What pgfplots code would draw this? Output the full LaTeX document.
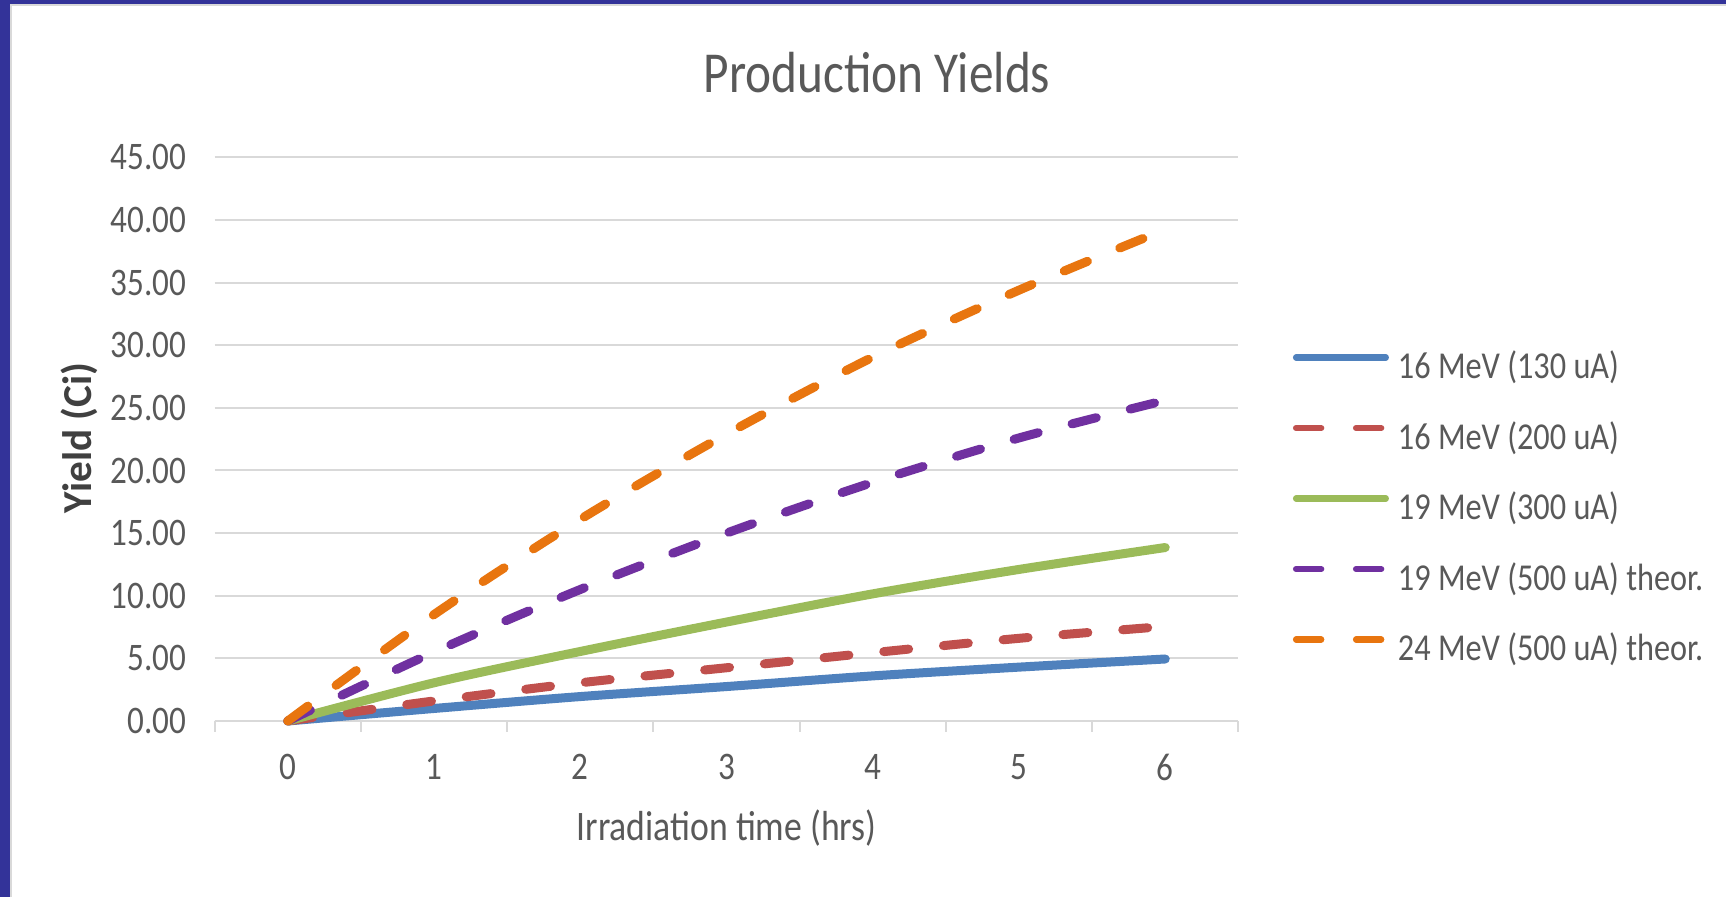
\documentclass[border=0pt]{standalone}
\usepackage{fontspec}
\setmainfont{Carlito}[FakeStretch=0.85]
\newfontfamily\ylabfont{Carlito}
\usepackage{pgfplots}
\usepackage{pgfplotstable}
\pgfplotsset{compat=1.18}
\definecolor{frameblue}{HTML}{333399}
\definecolor{gridc}{HTML}{D9D9D9}
\definecolor{textc}{HTML}{595959}
\definecolor{ylabc}{HTML}{404040}
\definecolor{cblue}{HTML}{4F81BD}
\definecolor{cred}{HTML}{C0504D}
\definecolor{cgreen}{HTML}{9BBB59}
\definecolor{cpurple}{HTML}{7030A0}
\definecolor{corange}{HTML}{E8750F}
\pgfplotstableread{
x blue red green purple orange
0 0 0 0 0 0
1 1.00 1.60 3.05 5.50 8.50
2 1.95 3.05 5.55 10.50 16.10
3 2.75 4.25 7.90 15.00 22.90
4 3.60 5.45 10.15 19.05 29.05
5 4.30 6.60 12.10 22.60 34.40
6 4.95 7.55 13.85 25.60 39.25
}\yields
\begin{document}
\begin{tikzpicture}
\useasboundingbox (0,0) rectangle (863pt,448.5pt);
\fill[white] (0,0) rectangle (863pt,448.5pt);
\begin{axis}[
  at={(107.35pt,88pt)}, anchor=south west,
  scale only axis, width=511.85pt, height=281.8pt,
  xmin=-0.5, xmax=6.5, ymin=0, ymax=45,
  clip=false,
  xtick={0,...,6}, ytick={0,5,...,45},
  minor xtick={-0.5,0.5,...,6.5},
  axis x line*=bottom, axis y line*=left,
  y axis line style={draw=none},
  x axis line style={draw=gridc, line width=1pt},
  ymajorgrids, major grid style={draw=gridc, line width=1pt},
  tick align=outside,
  major tick length=0pt,
  minor tick length=5.5pt,
  minor tick style={draw=gridc, line width=1pt},
  /pgf/number format/assume math mode=true,
  ticklabel style={font=\fontsize{19.5}{22}\selectfont, text=textc},
  yticklabel={\pgfmathprintnumber[fixed,fixed zerofill,precision=2]{\tick}},
  xticklabel style={yshift=-13.3pt},
  yticklabel style={xshift=-10.7pt},
  title={Production Yields},
  title style={at={(axis description cs:0.647,1.1288)}, anchor=center,
    font=\fontsize{29}{32}\selectfont, text=textc},
  xlabel={Irradiation time (hrs)},
  xlabel style={at={(axis description cs:0.5,-0.1898)}, anchor=center,
    font=\fontsize{21}{24}\selectfont, text=textc},
  ylabel={Yield (Ci)},
  every axis y label/.style={at={(axis description cs:-0.1326,0.502)}, rotate=90, anchor=center,
    font=\ylabfont\bfseries\fontsize{20.6}{23}\selectfont, text=ylabc},
  legend cell align=left,
  legend style={at={(axis description cs:1.0533,0.6537)}, anchor=north west,
    draw=none, fill=none, inner sep=0pt, outer sep=0pt,
    row sep=18.25pt, column sep=4.5pt,
    nodes={inner sep=0pt, text height=13pt, text depth=4pt,
      font=\fontsize{19}{22}\selectfont, text=textc}},
  legend image code/.code={\draw[#1, line width=3.2pt] (1.6pt,6pt) -- (46.4pt,6pt);},
  every axis plot/.append style={line width=4.5pt, line cap=round, line join=round, mark=none},
]
\addplot[cblue, smooth] table[x=x, y=blue] {\yields};
\addlegendentry{16 MeV (130 uA)}
\addplot[cred, smooth, dash pattern=on 12.5pt off 17.5pt] table[x=x, y=red] {\yields};
\addlegendentry{16 MeV (200 uA)}
\addplot[cgreen, smooth] table[x=x, y=green] {\yields};
\addlegendentry{19 MeV (300 uA)}
\addplot[cpurple, smooth, dash pattern=on 12.5pt off 17.5pt] table[x=x, y=purple] {\yields};
\addlegendentry{19 MeV (500 uA) theor.}
\addplot[corange, smooth, dash pattern=on 12.5pt off 17.5pt] table[x=x, y=orange] {\yields};
\addlegendentry{24 MeV (500 uA) theor.}
\end{axis}
\fill[frameblue] (0,0) rectangle (5pt,448.5pt);
\fill[frameblue] (0,446.5pt) rectangle (863pt,448.5pt);
\draw[gridc, line width=1.2pt] (5.6pt,0) -- (5.6pt,445.9pt) -- (863pt,445.9pt);
\end{tikzpicture}
\end{document}
